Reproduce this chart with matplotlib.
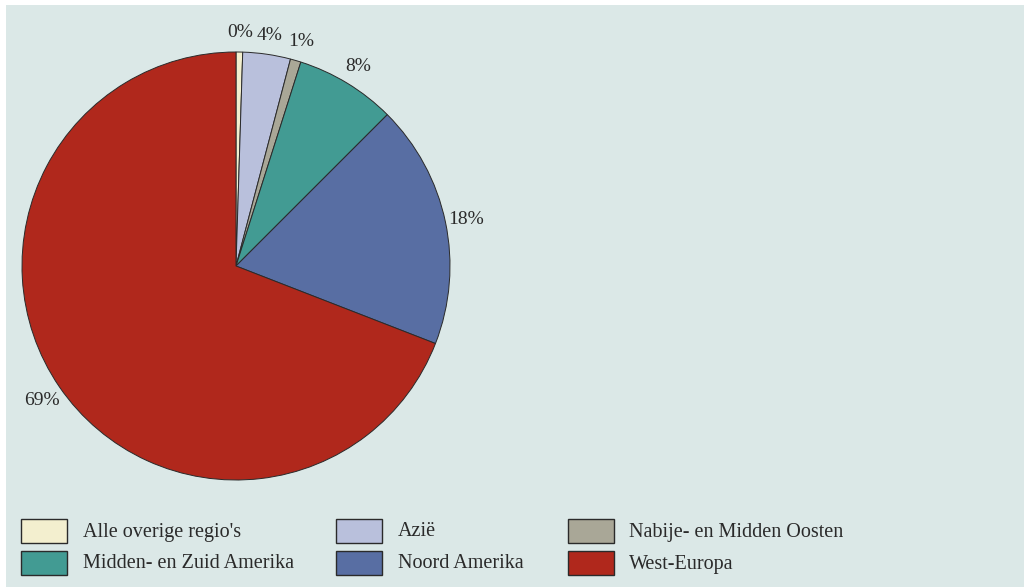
import matplotlib
matplotlib.use("Agg")
import matplotlib.pyplot as plt
from matplotlib.patches import Rectangle

# Data
categories = ["Alle overige regio's", "Azië", "Nabije- en Midden Oosten",
              "Midden- en Zuid Amerika", "Noord Amerika", "West-Europa"]
values = [0.5, 3.6, 0.8, 7.6, 18.4, 69.1]
pct_labels = ["0%", "4%", "1%", "8%", "18%", "69%"]
colors = ["#f3efcf", "#b9c0dc", "#a9a797", "#429b93", "#586ea3", "#b0281c"]

W, H = 1024, 587
fig = plt.figure(figsize=(W / 100, H / 100), dpi=100, facecolor="white")

# background panel
fig.add_artist(Rectangle((6 / W, 0), 1 - 6 / W, (H - 5) / H,
                         transform=fig.transFigure, facecolor="#dbe8e7",
                         edgecolor="none", zorder=0))

serif = ["Liberation Serif", "DejaVu Serif"]

cx, cy, r = 236, 266, 214
ax = fig.add_axes([(cx - r) / W, (H - cy - r) / H, 2 * r / W, 2 * r / H])
ax.set_facecolor("none")
wedges, texts = ax.pie(values, labels=pct_labels, colors=colors,
                       startangle=90, counterclock=False, radius=1,
                       labeldistance=1.1,
                       wedgeprops=dict(edgecolor="#2a2a2a", linewidth=0.7),
                       textprops=dict(fontsize=14, family=serif, color="#2a2a2a"))
for t in texts:
    t.set_horizontalalignment("center")
    t.set_verticalalignment("center_baseline")
ax.set_xlim(-1, 1)
ax.set_ylim(-1, 1)
ax.set_aspect("equal")
ax.axis("off")

# manual legend (row-major, 3 columns)
box_x = [21, 336, 568]
text_x = [83, 398, 629]
box_y = [519, 551]
bw, bh = 46, 24
for i, (cat, col) in enumerate(zip(categories, colors)):
    row, c = divmod(i, 3)
    x0 = box_x[c]
    y0 = box_y[row]
    fig.add_artist(Rectangle((x0 / W, (H - y0 - bh) / H), bw / W, bh / H,
                             transform=fig.transFigure, facecolor=col,
                             edgecolor="#2a2a2a", linewidth=1.0, zorder=2))
    fig.text(text_x[c] / W, (H - (y0 + bh / 2 + 1)) / H, cat,
             fontsize=14.5, family=serif, color="#2a2a2a",
             ha="left", va="center")

fig.savefig("out.png", dpi=100, facecolor="white")
